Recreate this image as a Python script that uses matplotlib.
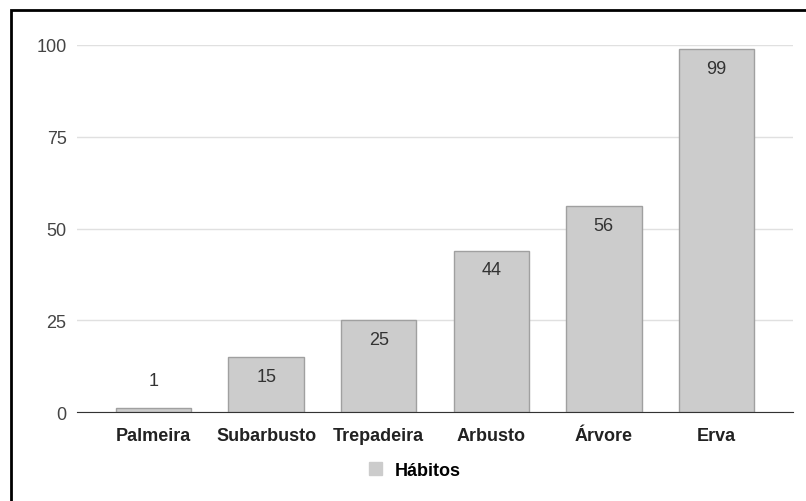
import matplotlib.pyplot as plt
from matplotlib.patches import Rectangle

categories = ["Palmeira", "Subarbusto", "Trepadeira", "Arbusto", "Árvore", "Erva"]
values = [1, 15, 25, 44, 56, 99]
yticks = [0, 25, 50, 75, 100]
series_name = "Hábitos"

plt.rcParams["font.family"] = ["Liberation Sans", "DejaVu Sans"]

fig = plt.figure(figsize=(8.06, 5.02), dpi=100)
ax = fig.add_axes([77 / 806, 1 - 413 / 502, 716 / 806, 367 / 502])

# black frame around the chart (runs off the right and bottom edges)
fig.patches.append(Rectangle((11 / 806, -0.02), 1.0, 1 - 11 / 502 + 0.02,
                             transform=fig.transFigure, fill=False,
                             edgecolor="black", linewidth=2))

x = range(len(categories))
bars = ax.bar(x, values, width=0.67, color="#cccccc", edgecolor="#a0a0a0",
              linewidth=1, label=series_name, zorder=3)

for xi, v in zip(x, values):
    if v < 8:
        ax.annotate(str(v), (xi, v), xytext=(0, 20), textcoords="offset points",
                    ha="center", va="center", fontsize=13, color="#333333")
    else:
        ax.annotate(str(v), (xi, v), xytext=(0, -14), textcoords="offset points",
                    ha="center", va="center", fontsize=13, color="#333333")

ax.set_xlim(-0.68, 5.68)
ax.set_ylim(0, 100)
ax.set_yticks(yticks)
ax.set_xticks(list(x))
ax.set_xticklabels(categories, fontweight="bold", fontsize=13, color="#222222")
ax.tick_params(axis="y", length=0, pad=7.5, labelsize=13, labelcolor="#444444")
ax.tick_params(axis="x", length=0, pad=11)
ax.grid(axis="y", color="#e0e0e0", linewidth=1, zorder=0)
for s in ["top", "right", "left"]:
    ax.spines[s].set_visible(False)
ax.spines["bottom"].set_color("#333333")
ax.spines["bottom"].set_zorder(4)

leg = fig.legend(handles=[bars], labels=[series_name], loc="center",
                 bbox_to_anchor=(415 / 806, 1 - 471 / 502), frameon=False,
                 prop={"weight": "bold", "size": 13}, handlelength=0.75,
                 handleheight=0.75, handletextpad=0.7)
for h in leg.legend_handles:
    h.set_edgecolor("#cccccc")

fig.savefig("out.png", dpi=100)
